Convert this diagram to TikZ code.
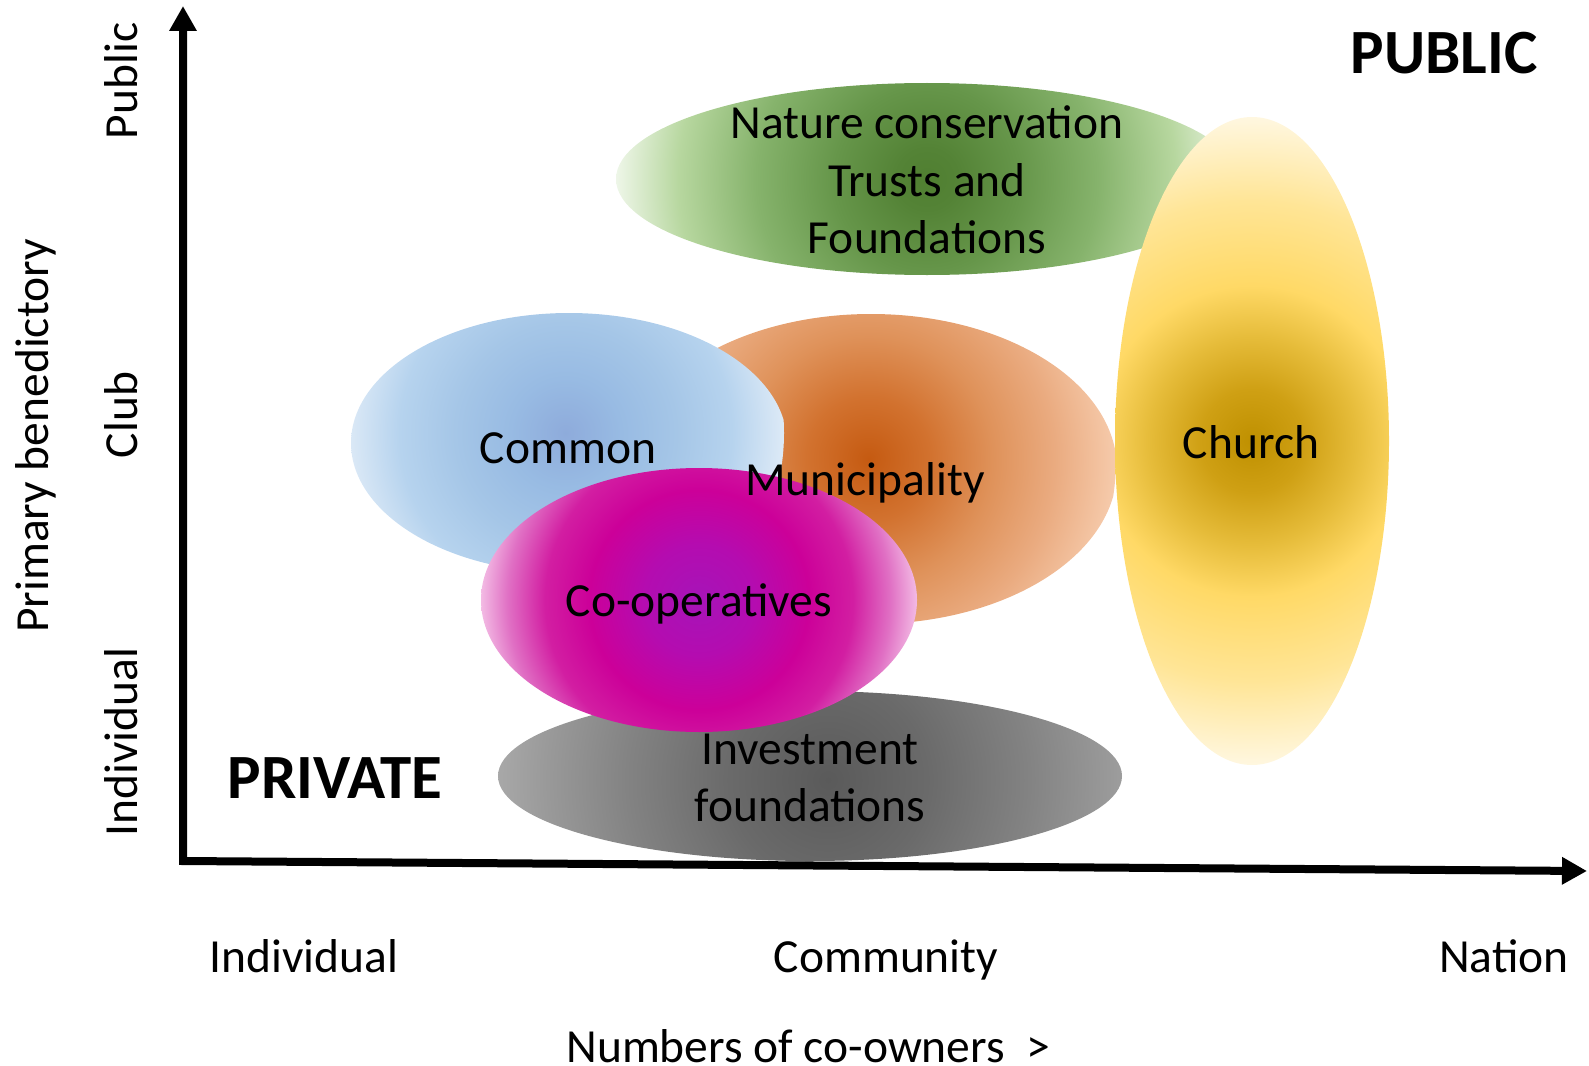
\documentclass[tikz,border=0pt]{standalone}
\usepackage{fontspec}
\setmainfont{Carlito}
\usetikzlibrary{shapes.geometric,arrows.meta}

% colour stops of the glowing ellipses
\definecolor{natA}{HTML}{507F31}\definecolor{natB}{HTML}{548336}\definecolor{natC}{HTML}{66964A}
\definecolor{natD}{HTML}{86B36C}\definecolor{natE}{HTML}{B7D79F}\definecolor{natF}{HTML}{EEF6E8}
\definecolor{chuA}{HTML}{BF9000}\definecolor{chuB}{HTML}{CFA014}\definecolor{chuC}{HTML}{E6BC3A}
\definecolor{chuD}{HTML}{FFD966}\definecolor{chuE}{HTML}{FFE596}\definecolor{chuF}{HTML}{FFF7E0}
\definecolor{comA}{HTML}{8EABDB}\definecolor{comB}{HTML}{98BBE3}\definecolor{comC}{HTML}{A5C6E7}
\definecolor{comD}{HTML}{B6D3EE}\definecolor{comE}{HTML}{DFEBF7}
\definecolor{munA}{HTML}{C55A11}\definecolor{munB}{HTML}{D2722F}\definecolor{munC}{HTML}{DF925A}
\definecolor{munD}{HTML}{EAAB80}\definecolor{munE}{HTML}{F6CBAC}
\definecolor{coA}{HTML}{A614B8}\definecolor{coB}{HTML}{B40CB0}\definecolor{coC}{HTML}{CC0099}
\definecolor{coD}{HTML}{D21EA2}\definecolor{coE}{HTML}{E070C4}\definecolor{coF}{HTML}{F4C0E6}
\definecolor{invA}{HTML}{5A5A5A}\definecolor{invB}{HTML}{6A6A6A}\definecolor{invC}{HTML}{828282}
\definecolor{invD}{HTML}{999999}\definecolor{invE}{HTML}{A8A8A8}

% the shaded circle's rim sits at 25bp; beyond it the rim colour is kept
\pgfdeclareradialshading{natureglow}{\pgfpoint{0bp}{0bp}}{color(0bp)=(natA); color(2.5bp)=(natB);
  color(7.5bp)=(natC); color(13.75bp)=(natD); color(20bp)=(natE); color(25bp)=(natF); color(50bp)=(natF)}
\pgfdeclareradialshading{churchglow}{\pgfpoint{0bp}{0bp}}{color(0bp)=(chuA); color(4bp)=(chuB);
  color(8bp)=(chuC); color(12bp)=(chuD); color(18.5bp)=(chuE); color(25bp)=(chuF); color(50bp)=(chuF)}
\pgfdeclareradialshading{commonglow}{\pgfpoint{0bp}{0bp}}{color(0bp)=(comA); color(6.25bp)=(comB);
  color(12.5bp)=(comC); color(18.75bp)=(comD); color(25bp)=(comE); color(50bp)=(comE)}
\pgfdeclareradialshading{munglow}{\pgfpoint{0bp}{0bp}}{color(0bp)=(munA); color(6.25bp)=(munB);
  color(12.5bp)=(munC); color(18.75bp)=(munD); color(25bp)=(munE); color(50bp)=(munE)}
\pgfdeclareradialshading{coopglow}{\pgfpoint{0bp}{0bp}}{color(0bp)=(coA); color(6.25bp)=(coB);
  color(12.5bp)=(coC); color(17.5bp)=(coD); color(21.75bp)=(coE); color(25bp)=(coF); color(50bp)=(coF)}
\pgfdeclareradialshading{investglow}{\pgfpoint{0bp}{0bp}}{color(0bp)=(invA); color(7.5bp)=(invB);
  color(15bp)=(invC); color(21.25bp)=(invD); color(25bp)=(invE); color(50bp)=(invE)}

\begin{document}
\begin{tikzpicture}[x=0.5pt,y=-0.5pt,
  blob/.style={ellipse,inner sep=0pt,outer sep=0pt,draw=none},
  lbl/.style={font=\fontsize{23.75pt}{28.75pt}\selectfont,inner sep=0pt,align=center},
  biglbl/.style={font=\fontsize{31.5pt}{36pt}\selectfont\bfseries,inner sep=0pt},
  axisline/.style={line width=4pt,line join=miter,
    {Triangle[length=12.5pt,width=13pt]}-{Triangle[length=12.5pt,width=13pt]}}]

\useasboundingbox (0,0) rectangle (1589,1065);

% ellipses, back to front
\node[blob,minimum width=311pt,minimum height=96pt,
  path picture={\shade[shading=natureglow] (path picture bounding box.center) circle[radius=155.5pt];}]
  (nature) at (927,179) {};
\node[blob,minimum width=312pt,minimum height=85pt,
  path picture={\shade[shading=investglow] ([shift={(9pt,-2pt)}]path picture bounding box.center) circle[radius=165pt];}]
  (invest) at (810,776) {};
\node[blob,minimum width=246pt,minimum height=155pt,
  path picture={\shade[shading=munglow] ([shift={(-1.5pt,5pt)}]path picture bounding box.center) circle[radius=124pt];}]
  (munic) at (871,469) {};
\node[blob,minimum width=218pt,minimum height=130pt,
  path picture={\shade[shading=commonglow] ([shift={(-2.5pt,5pt)}]path picture bounding box.center) circle[radius=110pt];}]
  (common) at (569,443) {};
\node[blob,minimum width=218pt,minimum height=132pt,
  path picture={\shade[shading=coopglow] (path picture bounding box.center) circle[radius=110pt];}]
  (coop) at (699,600) {};
\node[blob,minimum width=137pt,minimum height=324pt,
  path picture={\shade[shading=churchglow] (path picture bounding box.center) circle[radius=162pt];}]
  (church) at (1252,441) {};

% axes
\coordinate (ytip) at (183,6);
\coordinate (origin) at (183,861);
\coordinate (xtip) at (1587,871);
\draw[axisline] (ytip) -- (origin) -- (xtip);

% labels inside the ellipses
\node[lbl] (tnature) at (927,180) {Nature conservation\\Trusts and\\Foundations};
\node[lbl,anchor=base] (tcommon) at (568,463) {Common};
\node[lbl,anchor=base] (tmunic) at (865,495) {Municipality};
\node[lbl,anchor=base] (tcoop) at (699,616) {Co-operatives};
\node[lbl,anchor=base] (tchurch) at (1251,458) {Church};
\node[lbl] (tinvest) at (810,778) {Investment\\foundations};

% corner captions
\node[biglbl,anchor=base] (public) at (1444,74) {PUBLIC};
\node[biglbl,anchor=base] (private) at (335,798) {PRIVATE};

% vertical axis
\node[lbl,anchor=base,rotate=90] (ypublic) at (137,81) {Public};
\node[lbl,anchor=base,rotate=90] (yclub) at (137,415) {Club};
\node[lbl,anchor=base,rotate=90] (yindiv) at (137,742) {Individual};
\node[lbl,anchor=base,rotate=90] (ytitle) at (48,436) {Primary benedictory};

% horizontal axis
\node[lbl,anchor=base] (xindiv) at (304,972) {Individual};
\node[lbl,anchor=base] (xcomm) at (886,972) {Community};
\node[lbl,anchor=base] (xnation) at (1504,972) {Nation};
\node[lbl,anchor=base west] (xtitle) at (566,1062) {Numbers of co-owners\ \ >};
\end{tikzpicture}
\end{document}
